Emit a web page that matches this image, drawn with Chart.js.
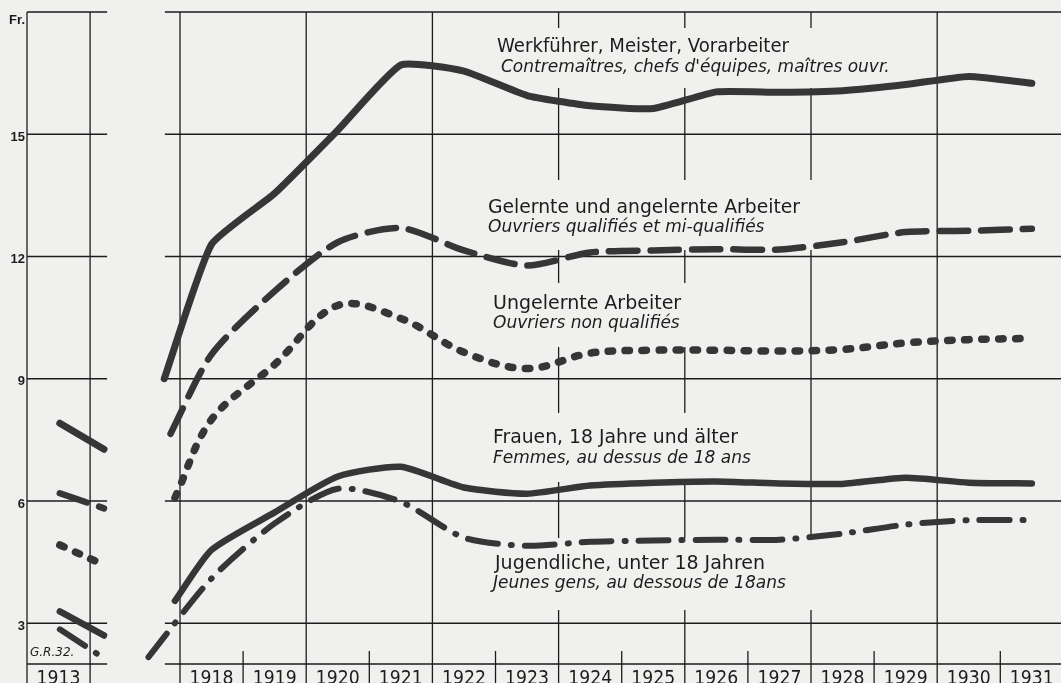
<!DOCTYPE html>
<html>
<head>
<meta charset="utf-8">
<style>
  html, body { margin: 0; padding: 0; background: #f0f0ee; }
  canvas { display: block; }
</style>
<script src="https://cdn.jsdelivr.net/npm/chart.js@4.4.1/dist/chart.umd.min.js"></script>
</head>
<body>
<canvas id="wageChart" width="1061" height="683"></canvas>
<script>
// Hourly earnings (Fr.) by group of workers, 1913 and 1918-1931
// values are read off the scanned chart, one point per mid-year

const yearLabels = ['1913', '1918', '1919', '1920', '1921', '1922', '1923', '1924',
                    '1925', '1926', '1927', '1928', '1929', '1930', '1931'];
const yTicks = [3, 6, 9, 12, 15];

// the short 1913 pieces and the mid-year points of 1918-1931
const years1913 = [1913.52, 1914.22];
const midYears = [1918.5, 1919.5, 1920.5, 1921.5, 1922.5, 1923.5, 1924.5,
                  1925.5, 1926.5, 1927.5, 1928.5, 1929.5, 1930.5, 1931.5];
// where each curve comes out of the break (order: werk, gelernt, ungelernt, frauen, jugend)
const startYears = [1917.75, 1917.85, 1917.92, 1917.92, 1917.5];

const werk1913 = [7.91, 7.27];
const werkValues = [9.0, 12.3, 13.55, 15.1, 16.7, 16.55, 15.95, 15.7, 15.63, 16.04, 16.03, 16.07, 16.22, 16.42, 16.25];

const gelernt1913 = [6.19, 5.82];
const gelerntValues = [7.65, 9.6, 11.15, 12.35, 12.7, 12.15, 11.78, 12.1, 12.15, 12.18, 12.17, 12.35, 12.6, 12.63, 12.68];

const ungelernt1913 = [4.92, 4.43];
const ungelerntValues = [6.08, 8.0, 9.35, 10.8, 10.48, 9.65, 9.25, 9.63, 9.7, 9.7, 9.68, 9.72, 9.88, 9.96, 9.99];

const frauen1913 = [3.29, 2.7];
const frauenValues = [3.55, 4.8, 5.72, 6.6, 6.84, 6.33, 6.18, 6.38, 6.45, 6.48, 6.43, 6.42, 6.57, 6.45, 6.43];

const jugend1913 = [2.85, 2.14];
const jugendValues = [2.17, 4.1, 5.45, 6.3, 5.98, 5.1, 4.9, 5.0, 5.03, 5.05, 5.05, 5.2, 5.42, 5.53, 5.53];

const PAPER = '#f0f0ee';
const INK = '#1c1c1c';
const LINE = '#363636';

// the 1913 column sits right next to 1918, the years between are cut out
const shift1913 = 2.575;
const toAxis = yr => (yr < 1916 ? yr + shift1913 : yr);

function buildPoints(v1913, startYear, values) {
  const pts = years1913.map((yr, i) => ({ x: toAxis(yr), y: v1913[i] }));
  pts.push({ x: 1917.0, y: null });
  [startYear, ...midYears].forEach((yr, i) => pts.push({ x: toAxis(yr), y: values[i] }));
  return pts;
}

const seriesLabels = [
  ['Werkführer, Meister, Vorarbeiter', 'Contremaîtres, chefs d\'équipes, maîtres ouvr.'],
  ['Gelernte und angelernte Arbeiter', 'Ouvriers qualifiés et mi-qualifiés'],
  ['Ungelernte Arbeiter', 'Ouvriers non qualifiés'],
  ['Frauen, 18 Jahre und älter', 'Femmes, au dessus de 18 ans'],
  ['Jugendliche, unter 18 Jahren', 'Jeunes gens, au dessous de 18ans']
];

// label blocks: text position/width and the blank patch behind them (px)
const labelLayout = [
  { x: [497, 501], y: [47, 68], w: [292, 400], box: [490, 28, 935, 88] },
  { x: [488, 488], y: [208, 228], w: [312, 309], box: [482, 180, 822, 250] },
  { x: [493, 493], y: [304, 324], w: [190, 204], box: [488, 283, 705, 347] },
  { x: [493, 493], y: [438, 459], w: [245, 267], box: [488, 413, 770, 482] },
  { x: [495, 493], y: [564, 584], w: [270, 315], box: [488, 538, 822, 610] }
];

const paperGrid = {
  id: 'paperGrid',
  beforeDraw(chart) {
    const ctx = chart.ctx;
    ctx.save();
    ctx.fillStyle = PAPER;
    ctx.fillRect(0, 0, chart.width, chart.height);
    ctx.restore();
  },
  beforeDatasetsDraw(chart) {
    const { ctx, chartArea, scales: { x, y } } = chart;
    const px = yr => x.getPixelForValue(toAxis(yr));
    const seg = (x0, y0, x1, y1) => { ctx.beginPath(); ctx.moveTo(x0, y0); ctx.lineTo(x1, y1); ctx.stroke(); };

    ctx.save();
    ctx.strokeStyle = INK;
    ctx.lineWidth = 1.3;

    // horizontal rules, drawn per panel so the break stays empty
    [[1913, 1914.27], [1917.76, 1932]].forEach(([a, b]) => {
      const x0 = px(a), x1 = Math.min(px(b), chartArea.right);
      [2, 3, 6, 9, 12, 15, 18].forEach(v => {
        const yy = y.getPixelForValue(v);
        seg(x0, yy, x1, yy);
      });
    });

    // full verticals every second year, short ticks between
    const top = y.getPixelForValue(18);
    [1913, 1914, 1918, 1920, 1922, 1924, 1926, 1928, 1930].forEach(yr => seg(px(yr), top, px(yr), chart.height));
    [1919, 1921, 1923, 1925, 1927, 1929, 1931].forEach(yr => seg(px(yr), chartArea.bottom - 13, px(yr), chart.height));

    // blank patches behind the series names
    ctx.fillStyle = PAPER;
    labelLayout.forEach(l => {
      const [x0, y0, x1, y1] = l.box;
      ctx.fillRect(x0, y0, x1 - x0, y1 - y0);
    });

    ctx.fillStyle = INK;
    ctx.textBaseline = 'middle';
    ctx.textAlign = 'left';
    labelLayout.forEach((l, i) => {
      ctx.font = '19px "DejaVu Sans"';
      ctx.fillText(seriesLabels[i][0], l.x[0], l.y[0], l.w[0]);
      ctx.font = 'italic 17px "DejaVu Sans"';
      ctx.fillText(seriesLabels[i][1], l.x[1], l.y[1], l.w[1]);
    });

    // year labels under the axis
    ctx.textAlign = 'center';
    ctx.textBaseline = 'alphabetic';
    ctx.font = '20px "DejaVu Sans"';
    yearLabels.forEach(lbl => {
      const yr = Number(lbl);
      ctx.fillText(lbl, px(yr + 0.5), chart.height + 1, 44);
    });

    // unit and draughtsman mark
    ctx.textAlign = 'right';
    ctx.textBaseline = 'middle';
    ctx.font = 'bold 13px "Liberation Sans"';
    ctx.fillText('Fr.', 25, y.getPixelForValue(17.8));
    ctx.textAlign = 'left';
    ctx.font = 'italic 12px "DejaVu Sans"';
    ctx.fillText('G.R.32.', 30, y.getPixelForValue(2.28), 47);
    ctx.restore();
  }
};

const common = { pointRadius: 0, fill: false, borderColor: LINE, borderCapStyle: 'round', borderJoinStyle: 'round', spanGaps: false };

new Chart(document.getElementById('wageChart'), {
  type: 'line',
  data: {
    datasets: [
      { ...common, label: seriesLabels[0][0], data: buildPoints(werk1913, startYears[0], werkValues), borderWidth: 7, tension: 0.15 },
      { ...common, label: seriesLabels[1][0], data: buildPoints(gelernt1913, startYears[1], gelerntValues), borderWidth: 6.5, borderDash: [28.5, 13], tension: 0.25 },
      { ...common, label: seriesLabels[2][0], data: buildPoints(ungelernt1913, startYears[2], ungelerntValues), borderWidth: 7.5, borderDash: [4.5, 12.5], tension: 0.35 },
      { ...common, label: seriesLabels[3][0], data: buildPoints(frauen1913, startYears[3], frauenValues), borderWidth: 6.5, tension: 0.2 },
      { ...common, label: seriesLabels[4][0], data: buildPoints(jugend1913, startYears[4], jugendValues), borderWidth: 6, borderDash: [30, 13, 1, 13], tension: 0.25 }
    ]
  },
  options: {
    responsive: false,
    animation: false,
    devicePixelRatio: 1,
    layout: { padding: { top: 12, bottom: 19, left: 0, right: 0 } },
    plugins: { legend: { display: false }, tooltip: { enabled: false } },
    scales: {
      x: { type: 'linear', display: false, min: 1915.575, max: 1931.962 },
      y: {
        min: 2,
        max: 18,
        afterBuildTicks: s => { s.ticks = yTicks.map(v => ({ value: v })); },
        afterFit: s => { s.width = 27; },
        grid: { display: false, drawTicks: false },
        border: { display: false },
        ticks: { padding: 2, labelOffset: 3, color: INK, font: { family: 'Liberation Sans', weight: 'bold', size: 13 } }
      }
    }
  },
  plugins: [paperGrid]
});
</script>
</body>
</html>
